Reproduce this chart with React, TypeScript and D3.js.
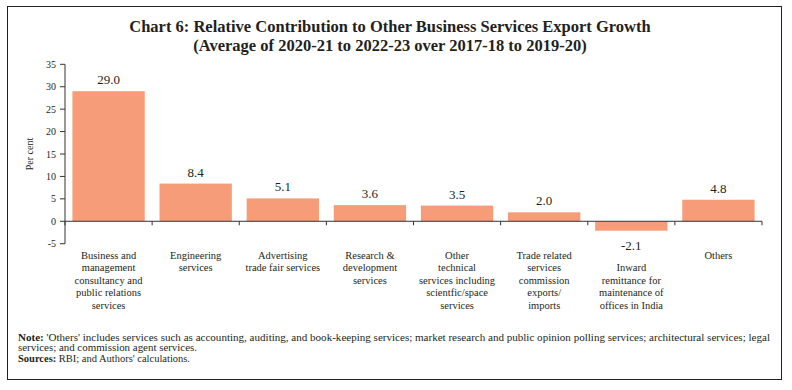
import * as d3 from "d3";

// categories (each label split into its printed lines)
const categories = [
    "Business and management consultancy and public relations services",
    "Engineering services",
    "Advertising trade fair services",
    "Research & development services",
    "Other technical services including scientfic/space services",
    "Trade related services commission exports/ imports",
    "Inward remittance for maintenance of offices in India",
    "Others",
];
const labelLines = [
    ["Business and", "management", "consultancy and", "public relations", "services"],
    ["Engineering", "services"],
    ["Advertising", "trade fair services"],
    ["Research &", "development", "services"],
    ["Other", "technical", "services including", "scientfic/space", "services"],
    ["Trade related", "services", "commission", "exports/", "imports"],
    ["", "Inward", "remittance for", "maintenance of", "offices in India"],
    ["Others"],
];
const values = [29.0, 8.4, 5.1, 3.6, 3.5, 2.0, -2.1, 4.8];
const yTicks = [-5, 0, 5, 10, 15, 20, 25, 30, 35];

const titleLines = [
    "Chart 6: Relative Contribution to Other Business Services Export Growth",
    "(Average of 2020-21 to 2022-23 over 2017-18 to 2019-20)",
];
const noteLines = [
    "'Others' includes services such as accounting, auditing, and book-keeping services; market research and public opinion polling services; architectural services; legal",
    "services; and commission agent services.",
];
const sourceText = "RBI; and Authors' calculations.";

const W = 792;
const H = 390;
const BAR = "#F69C78";
const INK = "#231f20";
const SERIF = "'Liberation Serif', 'DejaVu Serif', serif";

export default function App() {
    const x = d3
        .scaleBand<string>()
        .domain(categories)
        .range([65, 762])
        .paddingInner(0.17)
        .paddingOuter(0.085);
    const y = d3.scaleLinear().domain([-5, 35]).range([243.7, 64.3]);
    const step = x.step();
    const gap = (step * 0.17) / 2;
    const y0 = y(0);

    return (
        <svg
            width={W}
            height={H}
            style={{position: "absolute", left: 0, top: 0, background: "#fff"}}
            fontFamily={SERIF}
        >
            <rect x={7.5} y={6.5} width={774} height={373} fill="none" stroke="#222" strokeWidth={1}/>

            {titleLines.map((t, i) => (
                <text key={i} x={390} y={32 + i * 19} textAnchor="middle" fontSize={16.5}
                      fontWeight="bold" fill={INK}>{t}</text>
            ))}

            {/* y axis */}
            <line x1={65} x2={65} y1={y(35)} y2={y(-5)} stroke="#333"/>
            {yTicks.map(t => (
                <g key={t}>
                    <line x1={60} x2={65} y1={y(t)} y2={y(t)} stroke="#333"/>
                    <text x={56} y={y(t)} dy="0.35em" textAnchor="end" fontSize={10} fill={INK}>{t}</text>
                </g>
            ))}
            <text transform={`translate(33,${y(15)}) rotate(-90)`} textAnchor="middle" fontSize={10}
                  fill={INK}>Per cent</text>

            {/* bars */}
            {categories.map((c, i) => {
                const v = values[i];
                const top = Math.min(y(v), y0);
                const h = Math.abs(y(v) - y0);
                const cx = (x(c) as number) + x.bandwidth() / 2;
                return (
                    <g key={c}>
                        <rect x={x(c)} y={top} width={x.bandwidth()} height={h} fill={BAR}/>
                        <text x={cx} y={v >= 0 ? y(v) - 7 : y(v) + 19} textAnchor="middle" fontSize={13}
                              fill={INK}>{v.toFixed(1)}</text>
                        {labelLines[i].map((l, j) => (
                            <text key={j} x={cx} y={258.5 + j * 12.5} textAnchor="middle" fontSize={10.5}
                                  fill={INK}>{l}</text>
                        ))}
                    </g>
                );
            })}

            {/* zero line with category ticks */}
            <line x1={65} x2={762} y1={y0} y2={y0} stroke="#333"/>
            {categories.map(c => {
                const bx = (x(c) as number) - gap;
                return <line key={c} x1={bx} x2={bx} y1={y0} y2={y0 + 4} stroke="#333"/>;
            })}
            <line x1={762} x2={762} y1={y0} y2={y0 + 4} stroke="#333"/>

            {/* notes */}
            <text x={18} y={340.5} fontSize={9.5} fill={INK} textLength={752} lengthAdjust="spacingAndGlyphs">
                <tspan fontWeight="bold">Note: </tspan>{noteLines[0]}
            </text>
            <text x={18} y={351} fontSize={9.5} fill={INK} textLength={179} lengthAdjust="spacingAndGlyphs">
                {noteLines[1]}
            </text>
            <text x={18} y={361.5} fontSize={9.5} fill={INK} textLength={172} lengthAdjust="spacingAndGlyphs">
                <tspan fontWeight="bold">Sources: </tspan>{sourceText}
            </text>
        </svg>
    );
}
